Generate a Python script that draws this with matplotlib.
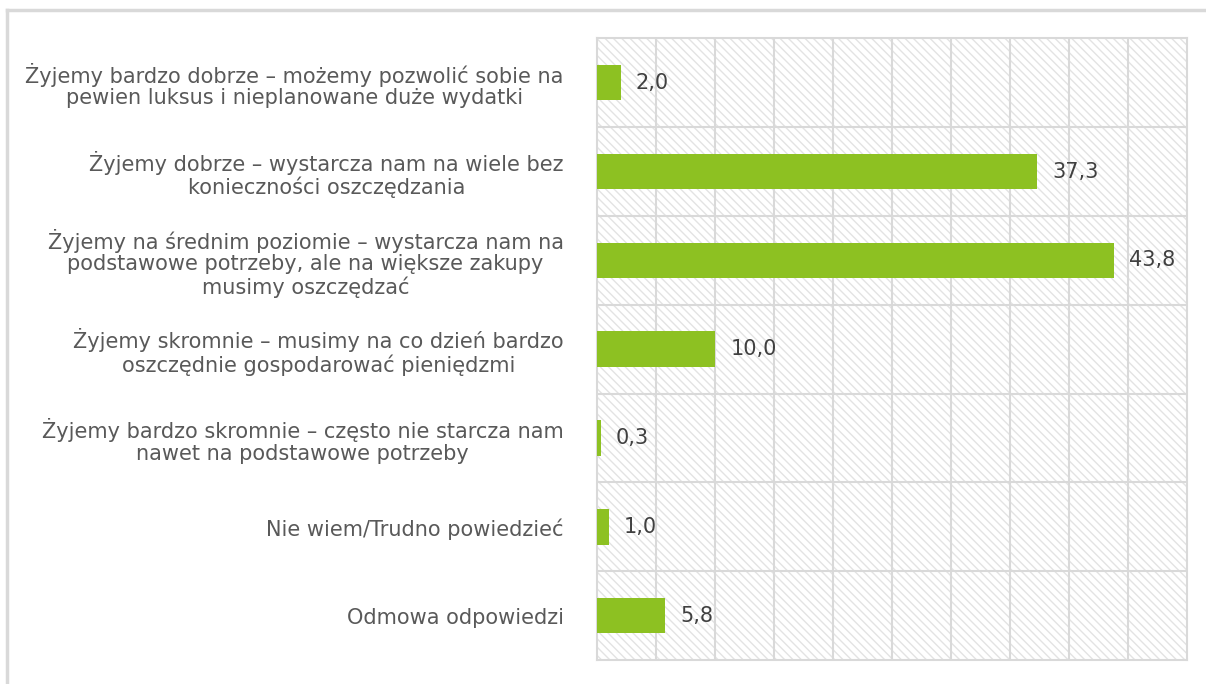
import numpy as np
import matplotlib.pyplot as plt
from matplotlib.patches import Rectangle
from matplotlib.lines import Line2D

categories = [
    "Żyjemy bardzo dobrze – możemy pozwolić sobie na\npewien luksus i nieplanowane duże wydatki",
    "Żyjemy dobrze – wystarcza nam na wiele bez\nkonieczności oszczędzania",
    "Żyjemy na średnim poziomie – wystarcza nam na\npodstawowe potrzeby, ale na większe zakupy\nmusimy oszczędzać",
    "Żyjemy skromnie – musimy na co dzień bardzo\noszczędnie gospodarować pieniędzmi",
    "Żyjemy bardzo skromnie – często nie starcza nam\nnawet na podstawowe potrzeby",
    "Nie wiem/Trudno powiedzieć",
    "Odmowa odpowiedzi",
]
values = [2.0, 37.3, 43.8, 10.0, 0.3, 1.0, 5.8]

plt.rcParams['font.family'] = ['DejaVu Sans']
plt.rcParams['hatch.linewidth'] = 1.0

fig = plt.figure(figsize=(12.06, 6.84), dpi=100)
ax = fig.add_axes([0.495, 0.035, 0.489, 0.909])

# outer frame (top + left edge visible)
fig.add_artist(Line2D([7/1206, 1], [1-10/684, 1-10/684], color='#d9d9d9', lw=2.5,
                      transform=fig.transFigure))
fig.add_artist(Line2D([7/1206, 7/1206], [0, 1-10/684], color='#d9d9d9', lw=2.5,
                      transform=fig.transFigure))

# hatched plot background
bg = Rectangle((0, 0), 1, 1, transform=ax.transAxes, facecolor='white',
               edgecolor='#e3e3e3', hatch='\\\\\\\\', linewidth=0, zorder=0)
ax.add_patch(bg)

y = np.arange(len(categories))
ax.barh(y, values, height=0.4, color='#8dc122', zorder=3)

for yi, v in zip(y, values):
    ax.annotate(f"{v:.1f}".replace('.', ','), xy=(v, yi), xytext=(11, 0),
                textcoords='offset points', va='center', ha='left',
                fontsize=15, color='#404040', zorder=4)

ax.set_xlim(0, 50)
ax.set_ylim(len(categories) - 0.5, -0.5)

# grid
for gx in np.arange(5, 50, 5):
    ax.axvline(gx, color='#d9d9d9', lw=1.5, zorder=1)
for gy in np.arange(0.5, len(categories) - 0.5, 1):
    ax.axhline(gy, color='#d9d9d9', lw=1.5, zorder=1)

ax.set_yticks(y)
ax.set_yticklabels(categories, fontsize=15, color='#595959', multialignment='center',
                   linespacing=1.1)
ax.tick_params(axis='y', length=0, pad=24)
ax.set_xticks([])

for s in ax.spines.values():
    s.set_color('#d9d9d9')
    s.set_linewidth(1.5)

fig.savefig('out.png', dpi=100)
